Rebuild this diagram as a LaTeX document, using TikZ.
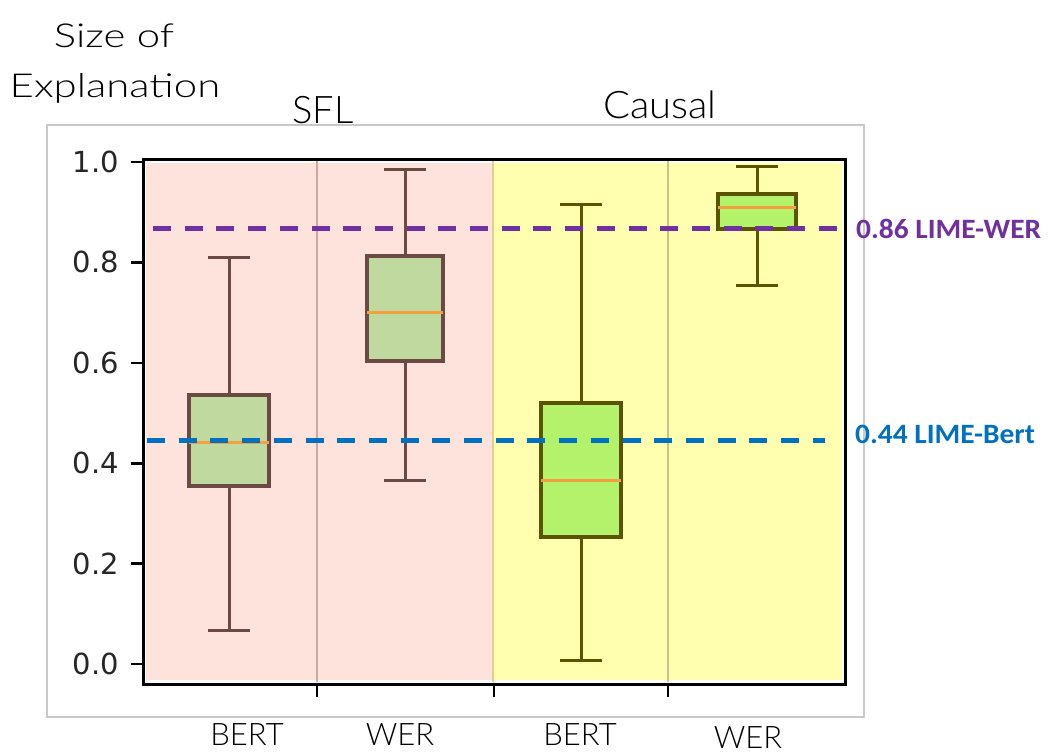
\documentclass[tikz,border=0pt]{standalone}
\usepackage{fontspec}
\setmainfont{Lato Light}
\newfontfamily\tickfont{DejaVu Sans}
\newfontfamily\notefont{Carlito}
\definecolor{pinkbg}{HTML}{FEE2DC}
\definecolor{yellowbg}{HTML}{FFFFAF}
\definecolor{sflfill}{HTML}{BFD99E}
\definecolor{sfledge}{HTML}{6A4A42}
\definecolor{causfill}{HTML}{B3F26A}
\definecolor{causedge}{HTML}{5A5300}
\definecolor{medorange}{HTML}{F2A040}
\definecolor{limewer}{HTML}{7030A0}
\definecolor{limebert}{HTML}{0070C0}
\definecolor{framegray}{HTML}{C8C8C8}
\definecolor{ticktext}{HTML}{262626}
\tikzset{
  frame/.style={draw=framegray, line width=1.5pt},
  spine/.style={draw=black, line width=3pt},
  tickmark/.style={draw=black, line width=2.6pt},
  sep/.style={line width=2pt},
  whisk/.style={line width=3pt},
  boxedge/.style={line width=3.4pt},
  median/.style={draw=medorange, line width=3pt},
  refline/.style={line width=5pt, dash pattern=on 18pt off 13.7pt},
  ticklabel/.style={font=\tickfont\fontsize{29}{29}\selectfont, text=ticktext, inner sep=0pt, anchor=east},
  title/.style={font=\fontsize{33}{33}\selectfont, inner sep=0pt, anchor=base},
  group/.style={font=\fontsize{38}{38}\selectfont, inner sep=0pt, anchor=base},
  catlabel/.style={font=\fontsize{31}{31}\selectfont, inner sep=0pt, anchor=base},
  note/.style={font=\notefont\bfseries\fontsize{28}{28}\selectfont, inner sep=0pt, anchor=base west},
}
% one box with whiskers: #1 centre, #2 half width, #3 low whisker, #4 q1,
% #5 median, #6 q3, #7 high whisker, #8 edge colour, #9 fill colour
\newcommand\drawbox[9]{%
  \draw[whisk, #8] (#1,#3) -- (#1,#4) (#1,#6) -- (#1,#7);
  \draw[whisk, #8] (#1-21,#3) -- (#1+21,#3) (#1-21,#7) -- (#1+21,#7);
  \filldraw[boxedge, draw=#8, fill=#9] (#1-#2,#4) rectangle (#1+#2,#6);
  \draw[median] (#1-#2,#5) -- (#1+#2,#5);
}
\begin{document}
\begin{tikzpicture}[x=1pt, y=-1pt]
\useasboundingbox (0,0) rectangle (1051,753);
\fill[white] (0,0) rectangle (1051,753);

% figure frame
\draw[frame] (47,125) rectangle (864,717);

% group backgrounds
\fill[pinkbg] (146,163) rectangle (493,680);
\fill[yellowbg] (493,163) rectangle (842,680);

% category separators
\draw[sep, draw={rgb,255:red,200;green,170;blue,165}] (317,161) -- (317,682);
\draw[sep, draw={rgb,255:red,232;green,205;blue,140}] (493,161) -- (493,682);
\draw[sep, draw={rgb,255:red,200;green,196;blue,140}] (668,161) -- (668,682);

% axes
\draw[spine] (143,159) rectangle (845,684);
\foreach \v/\t in {0/0.0,1/0.2,2/0.4,3/0.6,4/0.8,5/1.0} {
  \pgfmathsetmacro\yy{664-100.4*\v}
  \draw[tickmark] (131,\yy) -- (143,\yy);
  \node[ticklabel] (ytick\v) at (119,\yy) {\t};
}
\foreach \xx in {317,494,668} {
  \draw[tickmark] (\xx,684) -- (\xx,697);
}

% box plots
\drawbox{229}{40}{630}{486}{442}{395}{257}{sfledge}{sflfill}
\drawbox{405}{38}{480}{361}{312}{256}{169}{sfledge}{sflfill}
\drawbox{581}{40}{660}{537}{480}{403}{204}{causedge}{causfill}
\drawbox{757}{39}{285}{229}{207}{194}{166}{causedge}{causfill}

% reference lines
\coordinate (wer0) at (153,228);
\coordinate (wer1) at (838,228);
\coordinate (bert0) at (147,440);
\coordinate (bert1) at (825,440);
\draw[refline, draw=limewer] (wer0) -- (wer1);
\draw[refline, draw=limebert] (bert0) -- (bert1);
\node[note, text=limewer] (notewer) at (856,238) {\scalebox{1.05}[1]{0.86 LIME-WER}};
\node[note, text=limebert] (notebert) at (855,443) {\scalebox{1.05}[1]{0.44 LIME-Bert}};

% titles
\node[title] (ylab1) at (114,47) {\scalebox{1.27}[1]{Size of}};
\node[title] (ylab2) at (115,97) {\scalebox{1.27}[1]{Explanation}};
\node[group] (sfl) at (323,123) {SFL};
\node[group] (causal) at (660,118) {\scalebox{1.05}[1]{Causal}};

% category labels
\node[catlabel] (c1) at (247,745) {BERT};
\node[catlabel] (c2) at (400,745) {WER};
\node[catlabel] (c3) at (580,745) {BERT};
\node[catlabel] (c4) at (748,748) {WER};
\end{tikzpicture}
\end{document}
